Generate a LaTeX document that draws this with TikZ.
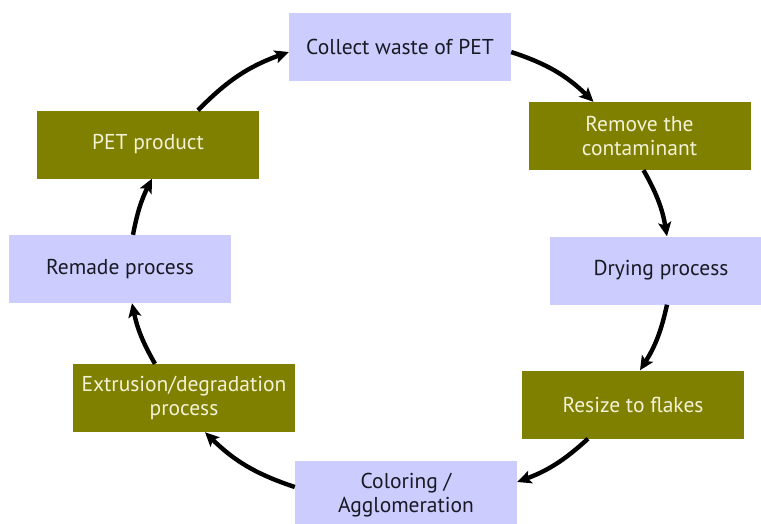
\documentclass[tikz,border=0pt]{standalone}
\usepackage{fontspec}
\setmainfont{PT Sans}
\usetikzlibrary{arrows.meta}
\definecolor{lavender}{RGB}{204,204,255}
\definecolor{olivebox}{RGB}{128,128,0}
\definecolor{creamtext}{RGB}{242,242,215}
\definecolor{darktext}{RGB}{25,25,35}
\tikzset{
  stepbase/.style={minimum width=222pt,minimum height=68pt,inner sep=0pt,
    align=center,font=\fontsize{21.5}{24}\selectfont},
  lavbox/.style={stepbase,fill=lavender,text=darktext},
  olbox/.style={stepbase,fill=olivebox,text=creamtext},
  flow/.style={line width=4.4pt,-{Stealth[length=14pt,width=13pt,inset=3pt]}}
}
\begin{document}
\begin{tikzpicture}[x=1pt,y=1pt]
  \useasboundingbox (0,0) rectangle (761,-523);
  \node[lavbox] (collect) at (400,-47) {Collect waste of PET};
  \node[olbox] (remove) at (639.5,-136) {Remove the\\contaminant};
  \node[lavbox] (drying) at (661,-270.5) {Drying process};
  \node[olbox] (resize) at (633,-404.5) {Resize to flakes};
  \node[lavbox] (coloring) at (406,-495) {Coloring /\\Agglomeration};
  \node[olbox] (extrusion) at (184,-398) {Extrusion/degradation\\process};
  \node[lavbox] (remade) at (120,-269) {Remade process};
  \node[olbox] (petprod) at (148,-144.5) {PET product};

  \draw[flow] ([yshift=-5pt]collect.east) to[bend left=13] ([xshift=-46pt]remove.north);
  \draw[flow] ([xshift=4pt]remove.south) to[bend left=10] ([xshift=6pt]drying.north);
  \draw[flow] ([xshift=6pt]drying.south) to[bend left=10] ([xshift=7pt]resize.north);
  \draw[flow] ([xshift=-45pt]resize.south) to[bend left=11] ([yshift=13pt]coloring.east);
  \draw[flow] ([yshift=8pt]coloring.west) to[bend left=13] ([xshift=21pt]extrusion.south);
  \draw[flow] ([xshift=-29pt]extrusion.north) to[bend left=9] ([xshift=12pt]remade.south);
  \draw[flow] ([xshift=13pt]remade.north) to[bend left=8] ([xshift=4pt]petprod.south);
  \draw[flow] ([xshift=50pt]petprod.north) to[bend left=13] ([yshift=-5pt]collect.west);
\end{tikzpicture}
\end{document}
